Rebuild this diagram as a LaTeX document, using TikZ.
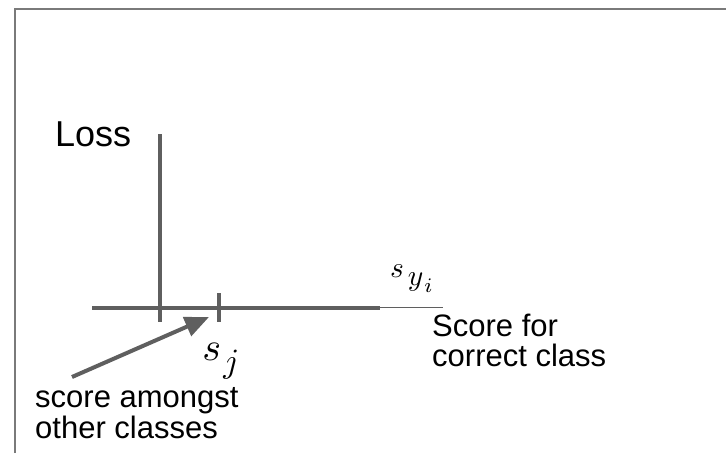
\documentclass[tikz,border=0pt]{standalone}
\usepackage{graphicx}
\usepackage{fontspec}
\setmainfont{Liberation Sans}
\usetikzlibrary{arrows.meta}
\definecolor{framegray}{HTML}{7A7A7A}
\definecolor{axisgray}{HTML}{5F5F5F}
\tikzset{
  frameline/.style={draw=framegray, line width=2pt},
  axisline/.style={draw=axisgray, line width=4pt},
  thinline/.style={draw=axisgray, line width=1.2pt},
  pointer/.style={draw=axisgray, line width=4pt, -{Triangle[length=24pt,width=20pt]}},
  lbl/.style={inner sep=0pt, anchor=base west, text=black, font=\fontsize{31}{30.5}\selectfont, align=left},
  mathlbl/.style={inner sep=0pt, anchor=base west, text=black, font=\fontsize{10}{12}\selectfont, transform shape}
}
\begin{document}
\begin{tikzpicture}[x=1pt, y=-1pt]
\useasboundingbox (0,0) rectangle (726,453);
\fill[white] (0,0) rectangle (726,453);
% frame
\draw[frameline] (15,453) -- (15,9) -- (726,9);
% axes
\coordinate (ytop) at (160,134);
\coordinate (ybot) at (160,322);
\coordinate (xl) at (92,307.5);
\coordinate (xm) at (380,307.5);
\coordinate (xr) at (443,307.5);
\coordinate (ttop) at (219,293);
\coordinate (tbot) at (219,322);
\draw[axisline] (ytop) -- (ybot);
\draw[axisline] (xl) -- (xm);
\draw[thinline] (xm) -- (xr);
\draw[axisline] (ttop) -- (tbot);
% labels
\node[lbl, font=\fontsize{36}{40}\selectfont] (loss) at (55,146) {Loss};
\node[mathlbl, scale=2.95] (syi) at (389.5,277.7) {$s\kern1.3pt\raisebox{-2.8pt}{$y$}\kern0.3pt\raisebox{-5.1pt}{$\scriptstyle i$}$};
\node[mathlbl, scale=4.0] (sj) at (201.5,360) {$s\kern0.6pt\raisebox{-3.1pt}{\scalebox{0.85}{$j$}}$};
\node[lbl] (score) at (432,366.5) {Score for\\correct class};
\node[lbl] (other) at (35,438) {score amongst\\other classes};
% arrow
\coordinate (atail) at (72,377);
\coordinate (atip) at (209,317);
\draw[pointer] (atail) -- (atip);
\end{tikzpicture}
\end{document}
